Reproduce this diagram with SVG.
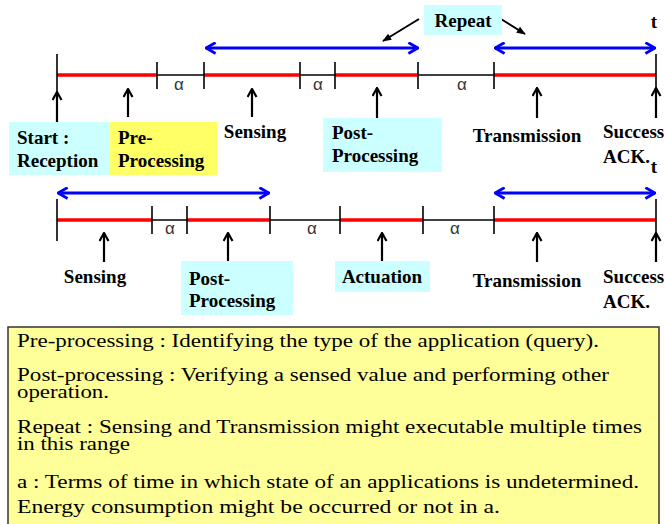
<svg xmlns="http://www.w3.org/2000/svg" width="665" height="524" viewBox="0 0 665 524">
<defs>
<marker id="ah" markerUnits="userSpaceOnUse" viewBox="0 0 10 10" refX="9" refY="5" markerWidth="10" markerHeight="11" orient="auto-start-reverse">
<path d="M1,0.5 L9,5 L1,9.5" fill="none" stroke="#000" stroke-width="2.2"/>
</marker>
<marker id="bh" markerUnits="userSpaceOnUse" viewBox="0 0 10 10" refX="9" refY="5" markerWidth="12" markerHeight="13" orient="auto-start-reverse">
<path d="M1,0.5 L9,5 L1,9.5" fill="none" stroke="#0000FF" stroke-width="2.4"/>
</marker>
<marker id="rh" markerUnits="userSpaceOnUse" viewBox="0 0 10 10" refX="9" refY="5" markerWidth="11" markerHeight="9" orient="auto">
<path d="M0,1 L10,5 L0,9 Z" fill="#000"/>
</marker>
</defs>
<style>
.red{stroke:#FF0000;stroke-width:3.5;fill:none}
.blk{stroke:#000;stroke-width:1.3;fill:none}
.tick{stroke:#000;stroke-width:1.6;fill:none}
.up{stroke:#000;stroke-width:2.2;fill:none;marker-end:url(#ah)}
.blue{stroke:#0000FF;stroke-width:3;fill:none;marker-start:url(#bh);marker-end:url(#bh)}
.rep{stroke:#000;stroke-width:2;fill:none;marker-end:url(#rh)}
.lbl{font-family:"Liberation Serif","Times New Roman",serif;font-weight:bold;font-size:19px;fill:#000}
.alpha{font-family:"Liberation Sans",Arial,sans-serif;font-size:17px;fill:#333}
.leg{font-family:"Liberation Serif","Times New Roman",serif;font-size:19.5px;fill:#000}
.cyan{fill:#CCFFFF}
.yel{fill:#FFFF66}
</style>

<g id="timeline1">
<line class="blk" x1="57" y1="75" x2="656" y2="75"/>
<line class="red" x1="57" y1="75" x2="157" y2="75"/>
<line class="red" x1="204" y1="75" x2="300" y2="75"/>
<line class="red" x1="335" y1="75" x2="418" y2="75"/>
<line class="red" x1="494" y1="75" x2="656" y2="75"/>
<line class="tick" x1="57" y1="54" x2="57" y2="95"/>
<line class="tick" x1="157" y1="62" x2="157" y2="89"/>
<line class="tick" x1="204" y1="62" x2="204" y2="89"/>
<line class="tick" x1="300" y1="62" x2="300" y2="89"/>
<line class="tick" x1="335" y1="62" x2="335" y2="89"/>
<line class="tick" x1="418" y1="62" x2="418" y2="89"/>
<line class="tick" x1="494" y1="62" x2="494" y2="89"/>
<line class="tick" x1="656" y1="54" x2="656" y2="95"/>
<text class="alpha" x="179" y="90" text-anchor="middle">α</text>
<text class="alpha" x="318" y="90" text-anchor="middle">α</text>
<text class="alpha" x="462" y="90" text-anchor="middle">α</text>
<text class="lbl" x="654" y="28" text-anchor="middle">t</text>
</g>

<g id="timeline2">
<line class="blk" x1="57" y1="220" x2="656" y2="220"/>
<line class="red" x1="57" y1="220" x2="152" y2="220"/>
<line class="red" x1="187" y1="220" x2="270" y2="220"/>
<line class="red" x1="340" y1="220" x2="423" y2="220"/>
<line class="red" x1="494" y1="220" x2="656" y2="220"/>
<line class="tick" x1="57" y1="199" x2="57" y2="241"/>
<line class="tick" x1="152" y1="206" x2="152" y2="234"/>
<line class="tick" x1="187" y1="206" x2="187" y2="234"/>
<line class="tick" x1="270" y1="206" x2="270" y2="234"/>
<line class="tick" x1="340" y1="206" x2="340" y2="234"/>
<line class="tick" x1="423" y1="206" x2="423" y2="234"/>
<line class="tick" x1="494" y1="206" x2="494" y2="234"/>
<line class="tick" x1="656" y1="199" x2="656" y2="240"/>
<text class="alpha" x="170" y="234" text-anchor="middle">α</text>
<text class="alpha" x="312" y="234" text-anchor="middle">α</text>
<text class="alpha" x="455" y="234" text-anchor="middle">α</text>
<text class="lbl" x="654" y="173" text-anchor="middle">t</text>
</g>

<g id="connectors">
<line class="blue" x1="206" y1="48" x2="418" y2="48"/>
<line class="blue" x1="495" y1="48" x2="655" y2="48"/>
<line class="blue" x1="58" y1="193" x2="269" y2="193"/>
<line class="blue" x1="495" y1="193" x2="655" y2="193"/>
<line class="rep" x1="419" y1="19" x2="383" y2="41"/>
<line class="rep" x1="501" y1="19" x2="525" y2="34"/>
<line class="up" x1="57" y1="123" x2="57" y2="92"/>
<line class="up" x1="128" y1="117" x2="128" y2="89"/>
<line class="up" x1="252" y1="117" x2="252" y2="89"/>
<line class="up" x1="377" y1="118" x2="377" y2="88"/>
<line class="up" x1="537" y1="118" x2="537" y2="88"/>
<line class="up" x1="656" y1="118" x2="656" y2="88"/>
<line class="up" x1="104" y1="262" x2="104" y2="233"/>
<line class="up" x1="228" y1="262" x2="228" y2="233"/>
<line class="up" x1="382" y1="262" x2="382" y2="233"/>
<line class="up" x1="537" y1="262" x2="537" y2="233"/>
<line class="up" x1="656" y1="262" x2="656" y2="233"/>
</g>

<g id="repeat">
<rect class="cyan" x="424" y="5" width="78" height="30"/>
<text class="lbl" x="463" y="27" text-anchor="middle">Repeat</text>
</g>

<g id="start-reception">
<rect class="cyan" x="9" y="122" width="101" height="53"/>
<text class="lbl" x="17" y="144">Start :</text>
<text class="lbl" x="17" y="167">Reception</text>
</g>
<g id="pre-processing">
<rect class="yel" x="110" y="122" width="107" height="53"/>
<text class="lbl" x="118" y="144">Pre-</text>
<text class="lbl" x="118" y="167">Processing</text>
</g>
<g id="sensing1">
<text class="lbl" x="255" y="138" text-anchor="middle">Sensing</text>
</g>
<g id="post-processing1">
<rect class="cyan" x="323" y="118" width="119" height="54"/>
<text class="lbl" x="332" y="139">Post-</text>
<text class="lbl" x="332" y="162">Processing</text>
</g>
<g id="transmission1">
<text class="lbl" x="527" y="142" text-anchor="middle">Transmission</text>
</g>
<g id="success1">
<text class="lbl" x="603" y="138">Success</text>
<text class="lbl" x="603" y="163">ACK.</text>
</g>

<g id="sensing2">
<text class="lbl" x="95" y="283" text-anchor="middle">Sensing</text>
</g>
<g id="post-processing2">
<rect class="cyan" x="181" y="261" width="112" height="54"/>
<text class="lbl" x="189" y="285">Post-</text>
<text class="lbl" x="189" y="307">Processing</text>
</g>
<g id="actuation">
<rect class="cyan" x="335" y="261" width="95" height="31"/>
<text class="lbl" x="382" y="283" text-anchor="middle">Actuation</text>
</g>
<g id="transmission2">
<text class="lbl" x="527" y="287" text-anchor="middle">Transmission</text>
</g>
<g id="success2">
<text class="lbl" x="603" y="283">Success</text>
<text class="lbl" x="603" y="308">ACK.</text>
</g>

<g id="legend">
<rect x="8" y="327" width="651" height="210" fill="#FFFF99" stroke="#333" stroke-width="1.5"/>
<text class="leg" x="17" y="347" textLength="582" lengthAdjust="spacingAndGlyphs">Pre-processing : Identifying the type of the application (query).</text>
<text class="leg" x="17" y="381" textLength="592" lengthAdjust="spacingAndGlyphs">Post-processing : Verifying a sensed value and performing other</text>
<text class="leg" x="17" y="398" textLength="92" lengthAdjust="spacingAndGlyphs">operation.</text>
<text class="leg" x="17" y="433" textLength="625" lengthAdjust="spacingAndGlyphs">Repeat : Sensing and Transmission might executable multiple times</text>
<text class="leg" x="17" y="450" textLength="113" lengthAdjust="spacingAndGlyphs">in this range</text>
<text class="leg" x="17" y="488" textLength="622" lengthAdjust="spacingAndGlyphs">a : Terms of time in which state of an applications is undetermined.</text>
<text class="leg" x="17" y="513" textLength="483" lengthAdjust="spacingAndGlyphs">Energy consumption might be occurred or not in a.</text>
</g>
</svg>
